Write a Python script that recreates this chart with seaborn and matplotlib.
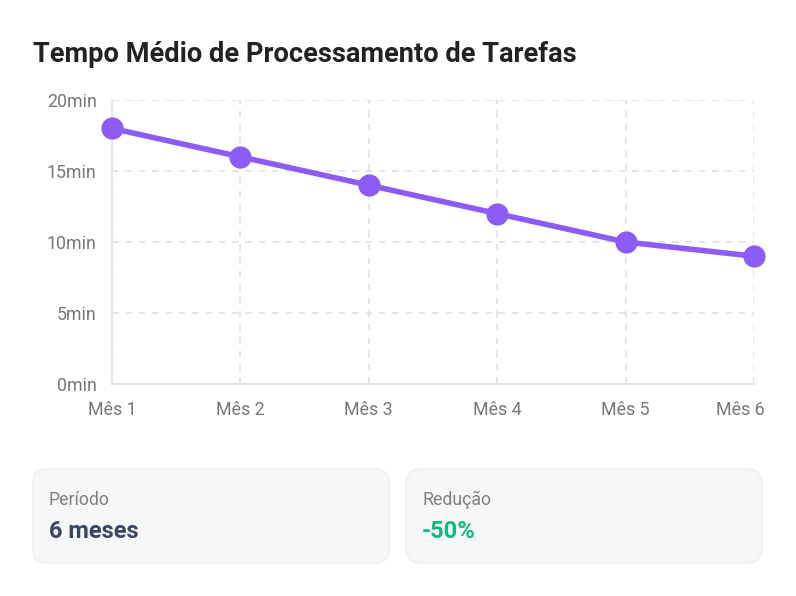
import matplotlib
matplotlib.use("Agg")
import matplotlib.pyplot as plt
import matplotlib.transforms as mtrans
import seaborn as sns
import pandas as pd
from matplotlib.patches import FancyBboxPatch

# ----------------------------
# 数据
# ----------------------------
meses = ["Mês 1", "Mês 2", "Mês 3", "Mês 4", "Mês 5", "Mês 6"]
tempo_min = [18, 16, 14, 12, 10, 9]
y_ticks = [0, 5, 10, 15, 20]
y_labels = ["0min", "5min", "10min", "15min", "20min"]

titulo = "Tempo Médio de Processamento de Tarefas"
card_labels = ["Período", "Redução"]
card_values = ["6 meses", "-50%"]
card_colors = ["#3b4563", "#10b981"]

df = pd.DataFrame({"mes": range(len(meses)), "tempo": tempo_min})

sns.set_style("white")
plt.rcParams["font.family"] = ["Roboto", "DejaVu Sans"]

W, H = 796, 596
fig = plt.figure(figsize=(W / 100, H / 100), dpi=100)
fig.patch.set_facecolor("white")

ax = fig.add_axes([112 / W, 1 - 384 / H, (754 - 112) / W, (384 - 100) / H])
sns.lineplot(data=df, x="mes", y="tempo", ax=ax, color="#8b5cf6",
             linewidth=4.0, marker="o", markersize=16, markeredgewidth=0,
             clip_on=False, zorder=5)

ax.set_xlim(0, len(meses) - 1)
ax.set_ylim(0, 20)
ax.set_xticks(range(len(meses)))
ax.set_xticklabels(meses)
ax.set_yticks(y_ticks)
ax.set_yticklabels(y_labels)
ax.set_xlabel("")
ax.set_ylabel("")

ax.grid(True, color="#dfdfeb", linestyle=(0, (4, 4)), linewidth=1.2)
ax.set_axisbelow(True)
for s in ["top", "right"]:
    ax.spines[s].set_visible(False)
ax.spines["left"].set_color("#e4e0f2")
ax.spines["bottom"].set_color("#e0e0ea")
ax.spines["left"].set_linewidth(1.2)
ax.spines["bottom"].set_linewidth(1.5)
ax.tick_params(axis="both", length=6, width=1.5, color="#555555",
               labelcolor="#777777", labelsize=12.8, direction="out")
ax.tick_params(axis="y", pad=5)
ax.tick_params(axis="x", pad=6)

# último rótulo fica dentro da área
last = ax.get_xticklabels()[-1]
last.set_transform(last.get_transform() + mtrans.ScaledTranslation(-14 / 100, 0, fig.dpi_scale_trans))

fig.text(33 / W, 1 - 54 / H, titulo, fontsize=19.6, fontweight="bold",
         color="#222222", va="center", ha="left")

# ----------------------------
# 卡片
# ----------------------------
cards_x = [33, 406]
card_w = 356
for x0, lab, val, col in zip(cards_x, card_labels, card_values, card_colors):
    box = FancyBboxPatch((x0 / W, 1 - 563 / H), card_w / W, 94 / H,
                         boxstyle="round,pad=0,rounding_size=0.018",
                         transform=fig.transFigure, facecolor="#f6f7f9",
                         edgecolor="#eeeeee", linewidth=1, mutation_aspect=W / H)
    fig.patches.append(box)
    fig.text((x0 + 16) / W, 1 - 500 / H, lab, fontsize=12.8, color="#808080",
             va="center", ha="left")
    fig.text((x0 + 16) / W, 1 - 531 / H, val, fontsize=17, fontweight="bold",
             color=col, va="center", ha="left")

fig.savefig("out.png", dpi=100)
